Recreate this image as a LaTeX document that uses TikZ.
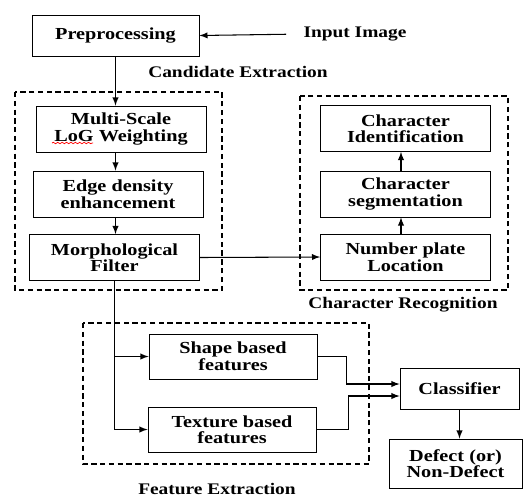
\documentclass[tikz,border=0pt]{standalone}
\usepackage{fontspec}
\setmainfont{Liberation Serif}[FakeStretch=1.2]
\usepackage{tikz}
\usetikzlibrary{arrows}
\usetikzlibrary{decorations.pathmorphing}
\tikzset{stage/.style={draw, line width=0.5pt, align=center, font=\bfseries\fontsize{9.6}{9.4}\selectfont, inner sep=1pt, minimum width=3.4cm, minimum height=0.92cm},
         grouplabel/.style={font=\bfseries\fontsize{9.2}{10}\selectfont, inner sep=0pt},
         group/.style={line width=0.6pt, dash pattern=on 3pt off 2pt},
         link/.style={line width=0.6pt, -latex}}
\newcommand{\group}[4]{\draw[group] ( #1 , #2 ) rectangle ( #3 , #4 );}
\begin{document}
\begin{tikzpicture}[x=0.02cm, y=-0.02cm]
        \useasboundingbox (0,0) rectangle (531,498);
        % candidate extraction
        \node[stage, minimum width=3.34cm, minimum height=0.82cm] (pre) at (115.5,35.5) {Preprocessing};
        \node[grouplabel] (inimg) at (355,34) {Input Image};
        \node[grouplabel] (candlabel) at (238,72) {Candidate Extraction};
        \group{15}{92}{222}{290}
        \node[stage] (msl) at (121,129) {Multi-Scale\\LoG Weighting};
        \node[stage] (edge) at (118,194) {Edge density\\enhancement};
        \node[stage] (morph) at (114.5,257.5) {Morphological\\Filter};
        \draw[red, decorate, decoration={snake, amplitude=0.4pt, segment length=2.5pt}] (52,143) -- (93,143);

        % character recognition
        \group{300}{96}{508}{290}
        \node[grouplabel] (charlabel) at (403,305) {Character Recognition};
        \node[stage] (cid) at (405.5,128.5) {Character\\Identification};
        \node[stage] (cseg) at (405.5,194) {Character\\segmentation};
        \node[stage] (npl) at (405.5,257) {Number plate\\Location};

        % feature extraction
        \group{83}{323}{369}{464}
        \node[grouplabel] (featlabel) at (217,489) {Feature Extraction};
        \node[stage, minimum width=3.36cm, minimum height=0.9cm] (shape) at (233,356.5) {Shape based\\features};
        \node[stage, minimum width=3.36cm, minimum height=0.9cm] (texture) at (232,429.5) {Texture based\\features};
        \node[stage, minimum width=2.38cm, minimum height=0.82cm] (classifier) at (459.5,388.5) {Classifier};
        \node[stage, minimum width=2.66cm, minimum height=0.98cm] (defect) at (455.5,463.5) {Defect (or)\\Non-Defect};

        % links
        \draw[link, shorten <=0.34cm] (inimg.west) -- (pre.east);
        \draw[link] (pre.south) -- (pre.south |- msl.north);
        \draw[link] (msl.south -| pre) -- (pre |- edge.north);
        \draw[link] (edge.south -| pre) -- (pre |- morph.north);
        \draw[link] (morph.east) -- (npl.west);
        \draw[link] (npl.north -| 401,0) -- (cseg.south -| 401,0);
        \draw[link] (cseg.north -| 401,0) -- (cid.south -| 401,0);
        \coordinate (split) at (morph.south |- texture.west);
        \draw[line width=0.6pt] (morph.south) -- (split);
        \draw[link] (morph.south |- shape.west) -- (shape.west);
        \draw[link] (split) -- (texture.west);
        \draw[link] (shape.east) -- ++(29,0) |- ([yshift=0.09cm]classifier.west);
        \draw[link] (texture.east) -- ++(32,0) |- ([yshift=-0.15cm]classifier.west);
        \draw[link] (classifier.south) -- (classifier.south |- defect.north);
\end{tikzpicture}
\end{document}
